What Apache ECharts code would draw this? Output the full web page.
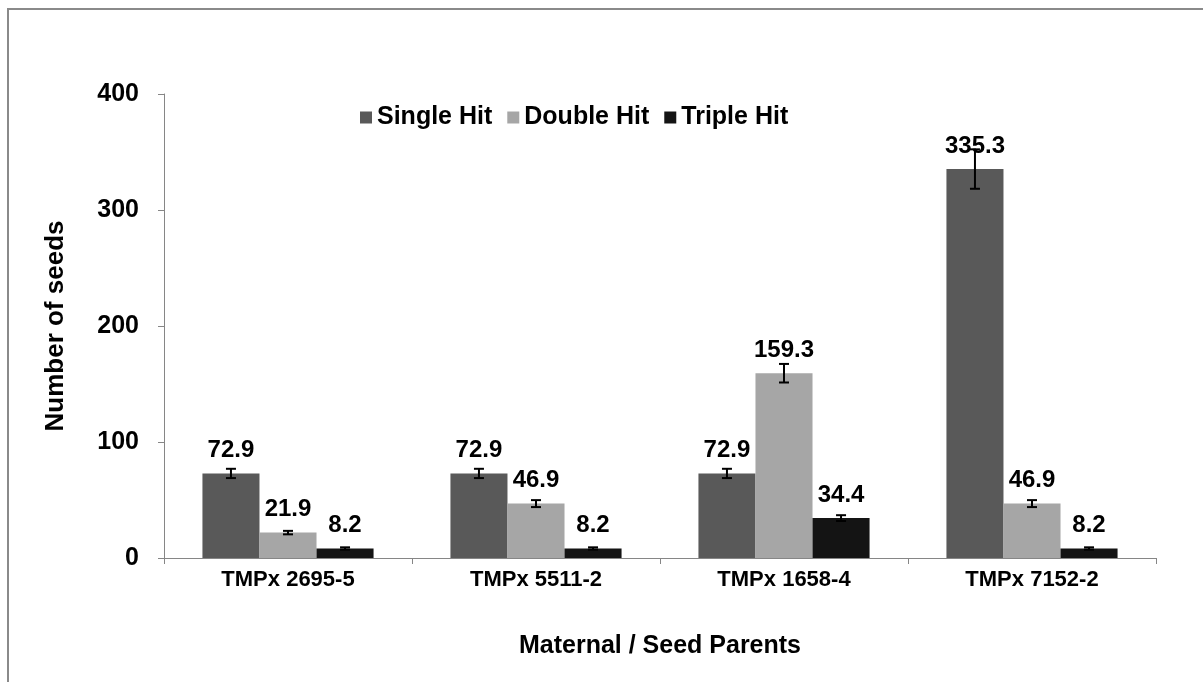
<!DOCTYPE html>
<html>
<head>
<meta charset="utf-8">
<script src="https://cdn.jsdelivr.net/npm/echarts@6/dist/echarts.min.js"></script>
<style>
  html, body { margin: 0; padding: 0; background: #fff; }
  #chart { width: 1203px; height: 682px; }
</style>
</head>
<body>
<div id="chart"></div>
<script>
// data
var categories = ['TMPx 2695-5', 'TMPx 5511-2', 'TMPx 1658-4', 'TMPx 7152-2'];
var seriesNames = ['Single Hit', 'Double Hit', 'Triple Hit'];
var singleHit = [72.9, 72.9, 72.9, 335.3];
var doubleHit = [21.9, 46.9, 159.3, 46.9];
var tripleHit = [8.2, 8.2, 34.4, 8.2];
// error bar half-widths
var singleErr = [4, 4, 4, 17];
var doubleErr = [1.5, 3, 8, 3];
var tripleErr = [1, 1, 2.5, 1];
var yTicks = [0, 100, 200, 300, 400];

var colors = ['#595959', '#a6a6a6', '#141414'];
var font = 'Liberation Sans, Arial, sans-serif';
var gapPct = 0.31;

var myChart = echarts.init(document.getElementById('chart'));

function errSeries(vals, errs, idx) {
    var data = vals.map(function (v, i) { return [i, v, v - errs[i], v + errs[i]]; });
    return {
        type: 'custom',
        z: 10,
        silent: true,
        renderItem: function (params, api) {
            var ci = api.value(0);
            var band = api.size([1, 0])[0];
            var bw = band * (1 - gapPct) / 3;
            var x = api.coord([ci, 0])[0] + (idx - 1) * bw;
            var lo = api.coord([ci, api.value(2)])[1];
            var hi = api.coord([ci, api.value(3)])[1];
            var cap = 5;
            var st = { stroke: '#000', lineWidth: 2 };
            return {
                type: 'group',
                children: [
                    { type: 'line', shape: { x1: x, y1: lo, x2: x, y2: hi }, style: st },
                    { type: 'line', shape: { x1: x - cap, y1: lo, x2: x + cap, y2: lo }, style: st },
                    { type: 'line', shape: { x1: x - cap, y1: hi, x2: x + cap, y2: hi }, style: st }
                ]
            };
        },
        data: data
    };
}

function barSeries(name, vals, color) {
    return {
        name: name,
        type: 'bar',
        data: vals,
        barGap: '0%',
        barCategoryGap: (gapPct * 100) + '%',
        itemStyle: { color: color },
        label: {
            show: true,
            position: 'top',
            distance: 11,
            color: '#000',
            fontFamily: font,
            fontWeight: 'bold',
            fontSize: 24
        }
    };
}

var option = {
    animation: false,
    color: colors,
    graphic: [{
        type: 'rect',
        shape: { x: 8, y: 9, width: 1400, height: 900 },
        style: { fill: 'none', stroke: '#8a8a8a', lineWidth: 2 }
    }],
    legend: {
        data: seriesNames,
        top: 100,
        left: 355,
        itemWidth: 12,
        itemHeight: 12,
        itemGap: 15,
        icon: 'rect',
        textStyle: { fontFamily: font, fontWeight: 'bold', fontSize: 25, color: '#000' }
    },
    grid: { left: 164, right: 47, top: 94, bottom: 124 },
    xAxis: {
        type: 'category',
        data: categories,
        name: 'Maternal / Seed Parents',
        nameLocation: 'middle',
        nameGap: 76,
        nameTextStyle: { fontFamily: font, fontWeight: 'bold', fontSize: 25, color: '#000' },
        axisLine: { lineStyle: { color: '#868686', width: 1 } },
        axisTick: { show: true, length: 6, lineStyle: { color: '#868686' } },
        axisLabel: { fontFamily: font, fontWeight: 'bold', fontSize: 22, color: '#000', margin: 11 }
    },
    yAxis: {
        type: 'value',
        min: yTicks[0],
        max: yTicks[yTicks.length - 1],
        interval: 100,
        name: 'Number of seeds',
        nameLocation: 'middle',
        nameGap: 95,
        nameTextStyle: { fontFamily: font, fontWeight: 'bold', fontSize: 26, color: '#000' },
        axisLine: { show: true, lineStyle: { color: '#868686', width: 1 } },
        axisTick: { show: true, length: 6, lineStyle: { color: '#868686' } },
        splitLine: { show: false },
        axisLabel: { fontFamily: font, fontWeight: 'bold', fontSize: 25, color: '#000', margin: 25 }
    },
    series: [
        barSeries(seriesNames[0], singleHit, colors[0]),
        barSeries(seriesNames[1], doubleHit, colors[1]),
        barSeries(seriesNames[2], tripleHit, colors[2]),
        errSeries(singleHit, singleErr, 0),
        errSeries(doubleHit, doubleErr, 1),
        errSeries(tripleHit, tripleErr, 2)
    ]
};

myChart.setOption(option);
</script>
</body>
</html>
